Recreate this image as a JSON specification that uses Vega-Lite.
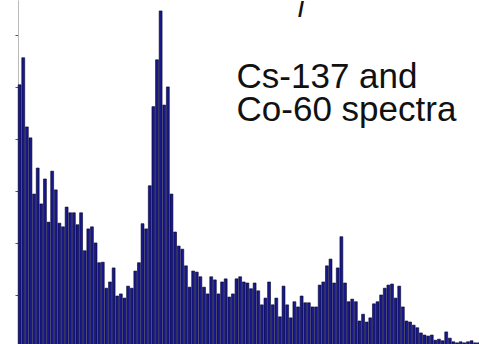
{
  "$schema": "https://vega.github.io/schema/vega-lite/v6.json",
  "width": 466,
  "height": 347,
  "autosize": {"type": "none"},
  "padding": {"left": 18, "top": 0, "right": 0, "bottom": 0},
  "background": "white",
  "config": {"view": {"stroke": null}},
  "data": {"values": [
    {"bin":1,"count":504},{"bin":2,"count":556},{"bin":3,"count":423},{"bin":4,"count":402},{"bin":5,"count":294},
    {"bin":6,"count":344},{"bin":7,"count":275},{"bin":8,"count":323},{"bin":9,"count":240},{"bin":10,"count":338},
    {"bin":11,"count":302},{"bin":12,"count":238},{"bin":13,"count":231},{"bin":14,"count":269},{"bin":15,"count":258},
    {"bin":16,"count":258},{"bin":17,"count":235},{"bin":18,"count":258},{"bin":19,"count":185},{"bin":20,"count":227},
    {"bin":21,"count":231},{"bin":22,"count":200},{"bin":23,"count":162},{"bin":24,"count":163},{"bin":25,"count":113},
    {"bin":26,"count":125},{"bin":27,"count":152},{"bin":28,"count":98},{"bin":29,"count":102},{"bin":30,"count":94},
    {"bin":31,"count":117},{"bin":32,"count":113},{"bin":33,"count":146},{"bin":34,"count":162},{"bin":35,"count":237},
    {"bin":36,"count":227},{"bin":37,"count":310},{"bin":38,"count":462},{"bin":39,"count":552},{"bin":40,"count":646},
    {"bin":41,"count":465},{"bin":42,"count":500},{"bin":43,"count":294},{"bin":44,"count":221},{"bin":45,"count":194},
    {"bin":46,"count":188},{"bin":47,"count":156},{"bin":48,"count":115},{"bin":49,"count":146},{"bin":50,"count":144},
    {"bin":51,"count":135},{"bin":52,"count":115},{"bin":53,"count":102},{"bin":54,"count":135},{"bin":55,"count":129},
    {"bin":56,"count":102},{"bin":57,"count":125},{"bin":58,"count":131},{"bin":59,"count":96},{"bin":60,"count":102},
    {"bin":61,"count":131},{"bin":62,"count":135},{"bin":63,"count":125},{"bin":64,"count":123},{"bin":65,"count":112},
    {"bin":66,"count":123},{"bin":67,"count":108},{"bin":68,"count":81},{"bin":69,"count":94},{"bin":70,"count":125},
    {"bin":71,"count":81},{"bin":72,"count":94},{"bin":73,"count":58},{"bin":74,"count":117},{"bin":75,"count":81},
    {"bin":76,"count":56},{"bin":77,"count":87},{"bin":78,"count":77},{"bin":79,"count":98},{"bin":80,"count":85},
    {"bin":81,"count":85},{"bin":82,"count":77},{"bin":83,"count":77},{"bin":84,"count":119},{"bin":85,"count":125},
    {"bin":86,"count":156},{"bin":87,"count":169},{"bin":88,"count":123},{"bin":89,"count":152},{"bin":90,"count":212},
    {"bin":91,"count":123},{"bin":92,"count":87},{"bin":93,"count":92},{"bin":94,"count":87},{"bin":95,"count":50},
    {"bin":96,"count":63},{"bin":97,"count":48},{"bin":98,"count":56},{"bin":99,"count":83},{"bin":100,"count":87},
    {"bin":101,"count":100},{"bin":102,"count":113},{"bin":103,"count":119},{"bin":104,"count":121},{"bin":105,"count":94},
    {"bin":106,"count":117},{"bin":107,"count":77},{"bin":108,"count":50},{"bin":109,"count":48},{"bin":110,"count":42},
    {"bin":111,"count":37},{"bin":112,"count":27},{"bin":113,"count":23},{"bin":114,"count":21},{"bin":115,"count":23},
    {"bin":116,"count":13},{"bin":117,"count":15},{"bin":118,"count":12},{"bin":119,"count":29},{"bin":120,"count":17},
    {"bin":121,"count":10},{"bin":122,"count":8},{"bin":123,"count":10},{"bin":124,"count":8},{"bin":125,"count":10},
    {"bin":126,"count":12},{"bin":127,"count":8},{"bin":128,"count":8},{"bin":129,"count":6}
  ]},
  "layer": [
    {
      "mark": {"type": "bar", "fill": "#18188a", "stroke": "#05052a", "strokeWidth": 0.6},
      "encoding": {
        "x": {"field": "bin", "type": "ordinal", "axis": null,
              "scale": {"paddingInner": 0.2, "paddingOuter": 0.05}},
        "y": {"field": "count", "type": "quantitative",
              "scale": {"domain": [0, 667], "nice": false},
              "axis": {"title": null, "labels": false, "grid": false, "values": [0,100,200,300,400,500,600],
                       "tickSize": 3, "tickColor": "#555555", "domainColor": "#bbbbbb", "domainWidth": 1}}
      }
    },
    {
      "data": {"values": [{"bin": 61, "count": 498, "label": "Cs-137 and\nCo-60 spectra"}]},
      "mark": {"type": "text", "align": "left", "baseline": "alphabetic", "font": "Liberation Sans",
               "fontSize": 35, "lineHeight": 33, "lineBreak": "\n", "color": "#111111"},
      "encoding": {
        "x": {"field": "bin", "type": "ordinal"},
        "y": {"field": "count", "type": "quantitative"},
        "text": {"field": "label"}
      }
    },
    {
      "data": {"values": [{"bin": 78, "count": 635, "label": "/"}]},
      "mark": {"type": "text", "align": "left", "baseline": "alphabetic", "font": "Liberation Sans",
               "fontSize": 22, "fontWeight": "bold", "color": "#111111"},
      "encoding": {
        "x": {"field": "bin", "type": "ordinal"},
        "y": {"field": "count", "type": "quantitative"},
        "text": {"field": "label"}
      }
    }
  ]
}
